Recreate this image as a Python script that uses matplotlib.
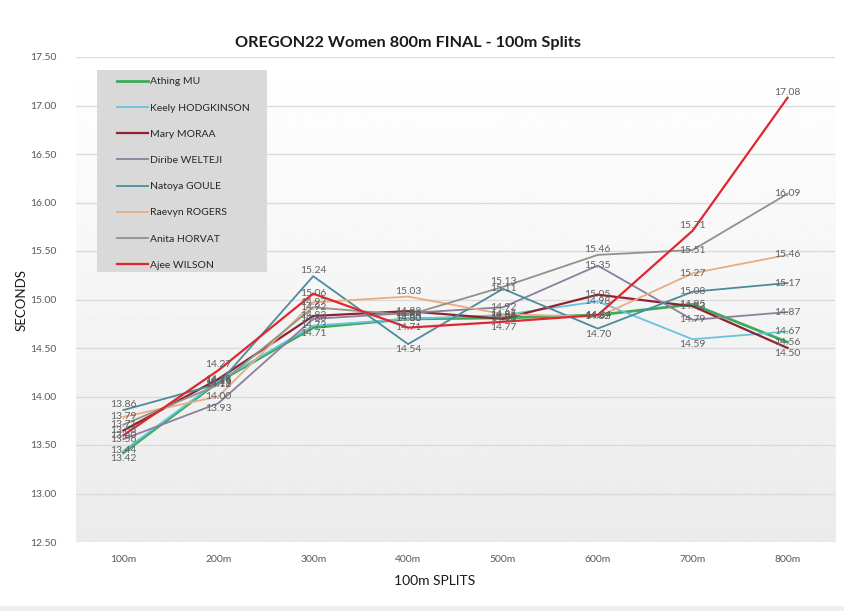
import matplotlib.pyplot as plt
import numpy as np
from matplotlib.lines import Line2D
from matplotlib.patches import Rectangle

plt.rcParams["font.family"] = ["Lato", "DejaVu Sans"]

SPLITS = ["100m", "200m", "300m", "400m", "500m", "600m", "700m", "800m"]

ATHLETES = [
    "Athing MU",
    "Keely HODGKINSON",
    "Mary MORAA",
    "Diribe WELTEJI",
    "Natoya GOULE",
    "Raevyn ROGERS",
    "Anita HORVAT",
    "Ajee WILSON",
]

MU = [13.42, 14.15, 14.71, 14.80, 14.81, 14.84, 14.95, 14.56]
HODGKINSON = [13.44, 14.16, 14.73, 14.80, 14.84, 14.98, 14.59, 14.67]
MORAA = [13.65, 14.18, 14.83, 14.88, 14.80, 15.05, 14.93, 14.50]
WELTEJI = [13.56, 13.93, 14.80, 14.86, 14.92, 15.35, 14.79, 14.87]
GOULE = [13.86, 14.13, 15.24, 14.54, 15.11, 14.70, 15.08, 15.17]
ROGERS = [13.79, 14.00, 14.97, 15.03, 14.85, 14.82, 15.27, 15.46]
HORVAT = [13.71, 14.12, 14.92, 14.84, 15.13, 15.46, 15.51, 16.09]
WILSON = [13.60, 14.27, 15.06, 14.71, 14.77, 14.84, 15.71, 17.08]

SERIES = [MU, HODGKINSON, MORAA, WELTEJI, GOULE, ROGERS, HORVAT, WILSON]
COLORS = ["#3daa5c", "#68c3e0", "#8e2230", "#8d7f9c",
          "#4b8c9c", "#e8ac80", "#8e9486", "#e0272f"]
WIDTHS = [2.0, 1.3, 1.6, 1.3, 1.3, 1.3, 1.3, 1.6]

fig = plt.figure(figsize=(8.44, 6.11), dpi=100)
fig.patch.set_facecolor("white")

ax = fig.add_axes([76 / 844, 1 - 542 / 611, 759 / 844, 485 / 611])
ax.set_facecolor("none")

# soft vertical gradient in the plot area
grad = np.linspace(1.0, 0.92, 256).reshape(-1, 1)
ax.imshow(grad, cmap="gray", vmin=0, vmax=1, aspect="auto",
          extent=(-0.5, 7.5, 12.5, 17.5), zorder=0, origin="upper")

x = np.arange(len(SPLITS))
table = np.array(SERIES)
col_max = table.max(axis=0)
col_min = table.min(axis=0)

for vals, col, lw in zip(SERIES, COLORS, WIDTHS):
    ax.plot(x, vals, color=col, lw=lw, zorder=3)
    for xi, v in zip(x, vals):
        dy = 0
        if v == col_max[xi]:
            dy = 4
        elif v == col_min[xi]:
            dy = -4
        ax.annotate(f"{v:.2f}", (xi, v), xytext=(0, dy),
                    textcoords="offset points", ha="center", va="center",
                    fontsize=7.5, color="#606060", zorder=4)

ax.set_xlim(-0.5, 7.5)
ax.set_ylim(12.5, 17.5)
yt = np.arange(12.5, 17.51, 0.5)
ax.set_yticks(yt)
ax.set_yticklabels([f"{t:.2f}" for t in yt])
ax.set_xticks(x)
ax.set_xticklabels(SPLITS)
ax.tick_params(length=0, labelsize=7.5, colors="#595959")
ax.tick_params(axis="y", pad=14)
ax.tick_params(axis="x", pad=9)
ax.grid(axis="y", color="#d9d9d9", lw=0.9, zorder=1)
for s in ax.spines.values():
    s.set_visible(False)

# legend box
ax.add_patch(Rectangle((97 / 844, 1 - 272 / 611), 170 / 844, 202 / 611,
                       transform=fig.transFigure, facecolor="#d9d9d9",
                       edgecolor="none", zorder=5))
handles = [Line2D([], [], color=c, lw=w) for c, w in zip(COLORS, WIDTHS)]
leg = ax.legend(handles, ATHLETES, loc="upper left",
                bbox_to_anchor=(112 / 844, 1 - 72 / 611),
                bbox_transform=fig.transFigure, frameon=False,
                fontsize=7.5, labelspacing=1.62, handlelength=3.0,
                handletextpad=0.1, borderpad=0.0)
leg.set_zorder(6)
for t in leg.get_texts():
    t.set_color("#262626")

fig.text(408 / 844, 1 - 43 / 611, "OREGON22 Women 800m FINAL - 100m Splits",
         ha="center", va="center", fontsize=11.7, fontweight="bold",
         color="#1a1a1a")
fig.text(22 / 844, 1 - 300 / 611, "SECONDS", rotation=90, ha="center",
         va="center", fontsize=9.5, color="#1a1a1a")
fig.text(435 / 844, 1 - 581 / 611, "100m SPLITS", ha="center", va="center",
         fontsize=10, color="#1a1a1a")

# thin grey strip along the bottom edge
fig.add_artist(Rectangle((0, 0), 1, 5 / 611, transform=fig.transFigure,
                         facecolor="#efefef", edgecolor="none"))

fig.savefig("out.png", dpi=100)
